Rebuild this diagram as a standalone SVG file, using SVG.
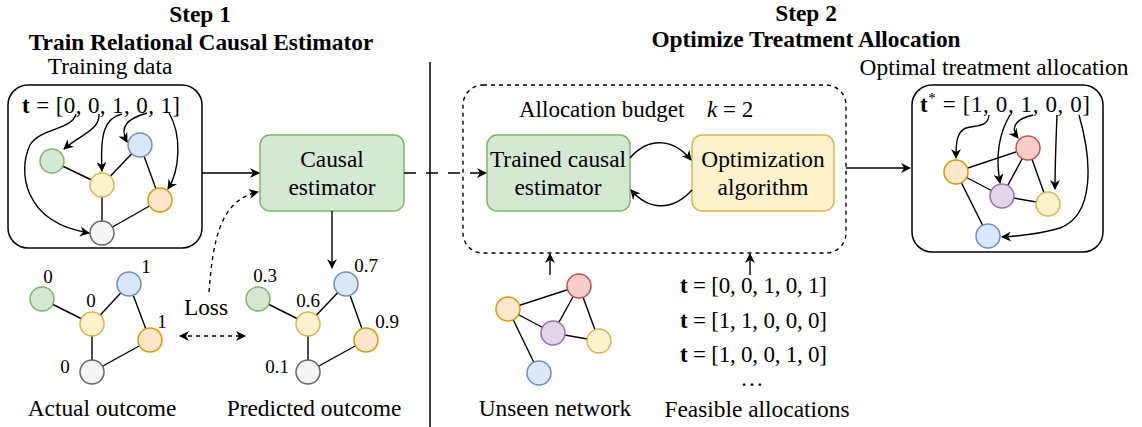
<svg xmlns="http://www.w3.org/2000/svg" width="1142" height="427" viewBox="0 0 1142 427" font-family="'Liberation Serif', 'DejaVu Serif', serif">
<style>
text{font-family:'Liberation Serif','DejaVu Serif',serif;fill:#000}
.t{font-size:23.4px;text-anchor:middle}
.h{font-size:23.4px;font-weight:bold;text-anchor:middle}
.m{font-size:23px}
.s{font-size:19px;text-anchor:middle}
.e{stroke:#000;stroke-width:1.4;fill:none}
.a{stroke:#000;stroke-width:1.4;fill:none;marker-end:url(#ah)}
.g{fill:#d5e8d4;stroke:#82b366;stroke-width:1.5}
.b{fill:#dae8fc;stroke:#6c8ebf;stroke-width:1.5}
.y{fill:#fff2cc;stroke:#d6b656;stroke-width:1.5}
.o{fill:#ffe6cc;stroke:#d79b00;stroke-width:1.5}
.k{fill:#f5f5f5;stroke:#666666;stroke-width:1.5}
.r{fill:#f8cecc;stroke:#b85450;stroke-width:1.5}
.p{fill:#e1d5e7;stroke:#9673a6;stroke-width:1.5}
.box{fill:#fff;stroke:#000;stroke-width:1.5}
</style>
<defs>
<marker id="ah" viewBox="0 0 10 10" refX="9" refY="5" markerWidth="11" markerHeight="10" markerUnits="userSpaceOnUse" orient="auto-start-reverse">
<path d="M0,0 L10,5 L0,10 L3,5 z" fill="#000"/>
</marker>
</defs>

<g id="titles">
<text class="h" x="200" y="22">Step 1</text>
<text class="h" x="201" y="50">Train Relational Causal Estimator</text>
<text class="h" x="806" y="21">Step 2</text>
<text class="h" x="806" y="47">Optimize Treatment Allocation</text>
</g>

<g id="divider"><line x1="430" y1="62" x2="430" y2="427" stroke="#000" stroke-width="1.5"/></g>

<g id="training">
<text class="t" x="110" y="74">Training data</text>
<rect class="box" x="8" y="85" width="194" height="163" rx="20"/>
<text class="m" x="22" y="113" textLength="158" lengthAdjust="spacing"><tspan font-weight="bold">t</tspan> = [0, 0, 1, 0, 1]</text>
<line class="e" x1="52" y1="161" x2="102" y2="185"/>
<line class="e" x1="102" y1="185" x2="140" y2="145"/>
<line class="e" x1="102" y1="185" x2="102" y2="233"/>
<line class="e" x1="140" y1="145" x2="160" y2="200"/>
<line class="e" x1="160" y1="200" x2="102" y2="233"/>
<circle class="g" cx="52" cy="161" r="12"/>
<circle class="b" cx="140" cy="145" r="12"/>
<circle class="y" cx="102" cy="185" r="12"/>
<circle class="o" cx="160" cy="200" r="12"/>
<circle class="k" cx="102" cy="233" r="12"/>
<path class="a" d="M76,114 C72,130 40,128 30,145 C18,170 22,222 89,233"/>
<path class="a" d="M99,114 C100,130 80,135 64,149"/>
<path class="a" d="M122,114 C104,118 100,135 102,171"/>
<path class="a" d="M147,113 C130,118 118,125 127,142"/>
<path class="a" d="M169,113 C182,135 180,170 168,189"/>
</g>

<g id="causal-estimator">
<rect class="g" x="260" y="135" width="144" height="76" rx="10"/>
<text class="t" x="332" y="167">Causal</text>
<text class="t" x="332" y="195">estimator</text>
</g>

<g id="actual">
<line class="e" x1="42" y1="299" x2="92" y2="324"/>
<line class="e" x1="92" y1="324" x2="129" y2="284"/>
<line class="e" x1="92" y1="324" x2="92" y2="372"/>
<line class="e" x1="129" y1="284" x2="150" y2="340"/>
<line class="e" x1="150" y1="340" x2="92" y2="372"/>
<circle class="g" cx="42" cy="299" r="12"/>
<circle class="b" cx="129" cy="284" r="12"/>
<circle class="y" cx="92" cy="324" r="12"/>
<circle class="o" cx="150" cy="340" r="12"/>
<circle class="k" cx="92" cy="372" r="12"/>
<text class="s" x="48" y="283">0</text>
<text class="s" x="146" y="273">1</text>
<text class="s" x="91" y="307">0</text>
<text class="s" x="162" y="328">1</text>
<text class="s" x="65" y="373">0</text>
<text class="t" x="102" y="416">Actual outcome</text>
</g>

<g id="predicted">
<line class="e" x1="258" y1="299" x2="308" y2="324"/>
<line class="e" x1="308" y1="324" x2="346" y2="284"/>
<line class="e" x1="308" y1="324" x2="308" y2="372"/>
<line class="e" x1="346" y1="284" x2="366" y2="340"/>
<line class="e" x1="366" y1="340" x2="308" y2="372"/>
<circle class="g" cx="258" cy="299" r="12"/>
<circle class="b" cx="346" cy="284" r="12"/>
<circle class="y" cx="308" cy="324" r="12"/>
<circle class="o" cx="366" cy="340" r="12"/>
<circle class="k" cx="308" cy="372" r="12"/>
<text class="s" x="265" y="282">0.3</text>
<text class="s" x="366" y="272">0.7</text>
<text class="s" x="308" y="307">0.6</text>
<text class="s" x="387" y="328">0.9</text>
<text class="s" x="277" y="373">0.1</text>
<text class="t" x="314" y="416">Predicted outcome</text>
</g>

<g id="loss"><text class="t" x="206" y="315">Loss</text></g>

<g id="allocation-budget">
<rect x="463" y="85" width="383" height="168" rx="20" fill="none" stroke="#000" stroke-width="1.4" stroke-dasharray="4 4"/>
<text class="m" x="519" y="117">Allocation budget</text>
<text class="m" x="707" y="117"><tspan font-style="italic">k</tspan> = 2</text>
</g>
<g id="trained-estimator">
<rect class="g" x="487" y="135" width="143" height="76" rx="10"/>
<text class="t" x="558" y="167">Trained causal</text>
<text class="t" x="558" y="195">estimator</text>
</g>
<g id="optimization">
<rect class="y" x="692" y="135" width="142" height="76" rx="10"/>
<text class="t" x="763" y="167">Optimization</text>
<text class="t" x="763" y="195">algorithm</text>
</g>

<g id="unseen">
<line class="e" x1="508" y1="309" x2="579" y2="286"/>
<line class="e" x1="508" y1="309" x2="553" y2="333"/>
<line class="e" x1="508" y1="309" x2="539" y2="373"/>
<line class="e" x1="579" y1="286" x2="553" y2="333"/>
<line class="e" x1="579" y1="286" x2="599" y2="341"/>
<line class="e" x1="553" y1="333" x2="599" y2="341"/>
<circle class="r" cx="579" cy="286" r="12"/>
<circle class="o" cx="508" cy="309" r="12"/>
<circle class="p" cx="553" cy="333" r="12"/>
<circle class="y" cx="599" cy="341" r="12"/>
<circle class="b" cx="539" cy="373" r="12"/>
<text class="t" x="555" y="416">Unseen network</text>
</g>

<g id="feasible">
<text class="m" x="680" y="293" textLength="147" lengthAdjust="spacing"><tspan font-weight="bold">t</tspan> = [0, 0, 1, 0, 1]</text>
<text class="m" x="680" y="328" textLength="147" lengthAdjust="spacing"><tspan font-weight="bold">t</tspan> = [1, 1, 0, 0, 0]</text>
<text class="m" x="680" y="362" textLength="147" lengthAdjust="spacing"><tspan font-weight="bold">t</tspan> = [1, 0, 0, 1, 0]</text>
<text class="t" x="752" y="386">…</text>
<text class="t" x="757" y="417">Feasible allocations</text>
</g>

<g id="optimal">
<text class="t" x="994" y="75">Optimal treatment allocation</text>
<rect class="box" x="912" y="85" width="191" height="167" rx="20"/>
<text class="m" x="920" y="112" textLength="170" lengthAdjust="spacing"><tspan font-weight="bold">t</tspan><tspan font-size="15" dy="-9">*</tspan><tspan dy="9"> = [1, 0, 1, 0, 0]</tspan></text>
<line class="e" x1="956" y1="172" x2="1028" y2="148"/>
<line class="e" x1="956" y1="172" x2="1002" y2="196"/>
<line class="e" x1="956" y1="172" x2="988" y2="236"/>
<line class="e" x1="1028" y1="148" x2="1002" y2="196"/>
<line class="e" x1="1028" y1="148" x2="1048" y2="204"/>
<line class="e" x1="1002" y1="196" x2="1048" y2="204"/>
<circle class="o" cx="956" cy="172" r="12"/>
<circle class="r" cx="1028" cy="148" r="12"/>
<circle class="p" cx="1002" cy="196" r="12"/>
<circle class="y" cx="1048" cy="204" r="12"/>
<circle class="b" cx="988" cy="236" r="12"/>
<path class="a" d="M989,115 C988,128 975,125 966,128 C956,132 956,145 956,158"/>
<path class="a" d="M1010,115 C998,135 996,160 1000,183"/>
<path class="a" d="M1033,115 C1020,118 1008,125 1018,138"/>
<path class="a" d="M1057,115 C1056,140 1055,165 1055,189"/>
<path class="a" d="M1079,115 C1092,160 1095,215 1060,228 C1040,234 1020,236 1002,237"/>
</g>

<g id="connectors">
<line class="a" x1="202" y1="173" x2="259" y2="173"/>
<line class="a" x1="332" y1="211" x2="332" y2="268"/>
<path class="a" d="M209,292 C213,240 220,200 258,192" stroke-dasharray="4 4"/>
<line class="a" x1="180" y1="336" x2="245" y2="336" stroke-dasharray="4 4" style="marker-start:url(#ah)"/>
<line class="a" x1="404" y1="173" x2="486" y2="173" stroke-dasharray="12 10"/>
<path class="a" d="M630,158 C650,135 675,140 691,160"/>
<path class="a" d="M692,190 C672,212 648,210 631,190"/>
<line class="a" x1="846" y1="168" x2="910" y2="168"/>
<line class="a" x1="550" y1="275" x2="550" y2="254"/>
<line class="a" x1="750" y1="275" x2="750" y2="254"/>
</g>
</svg>
